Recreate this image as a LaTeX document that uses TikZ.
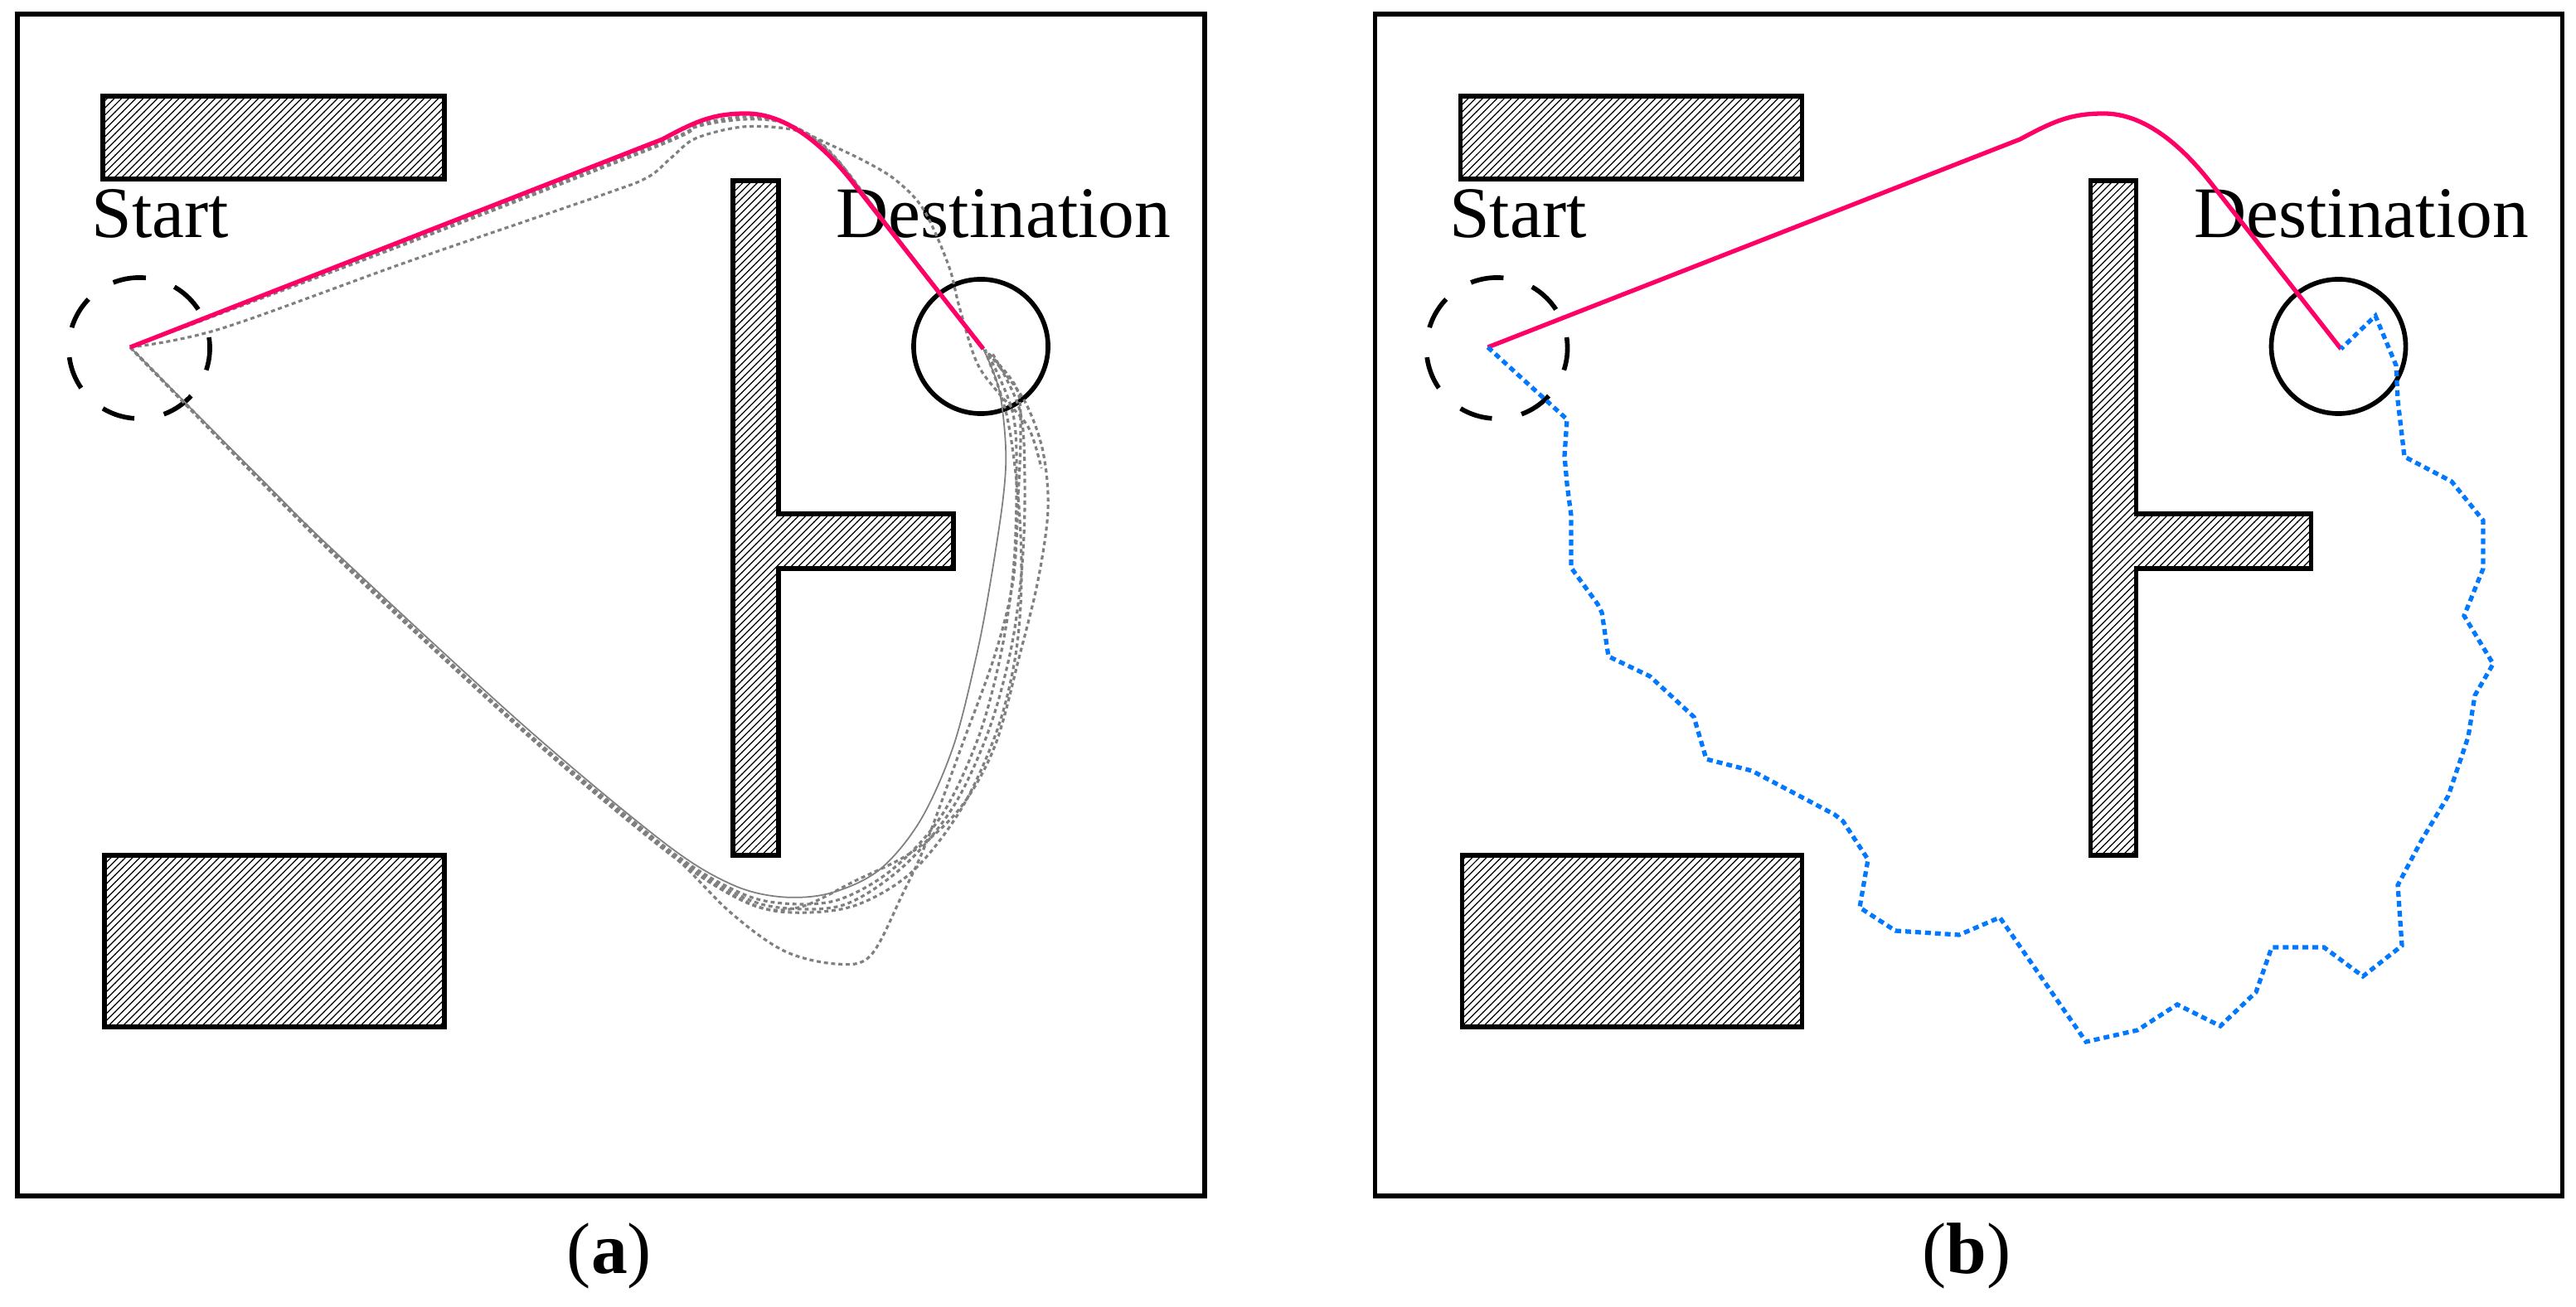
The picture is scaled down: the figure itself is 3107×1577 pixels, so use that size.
\documentclass[tikz,border=0pt]{standalone}
\usepackage{fontspec}
\setmainfont{Liberation Serif}
\usetikzlibrary{patterns}
\pgfdeclarepatternformonly{hatchlines}{\pgfqpoint{-1pt}{-1pt}}{\pgfqpoint{3.47pt}{3.47pt}}{\pgfqpoint{2.47pt}{2.47pt}}{%
  \pgfsetlinewidth{0.35pt}%
  \pgfpathmoveto{\pgfqpoint{0pt}{0pt}}%
  \pgfpathlineto{\pgfqpoint{2.57pt}{2.57pt}}%
  \pgfusepath{stroke}}
\definecolor{pathred}{RGB}{255,0,102}
\definecolor{pathblue}{RGB}{0,120,255}
\definecolor{trajgray}{RGB}{128,128,128}
\tikzset{
  panelframe/.style={draw=black, line width=1.6pt},
  obstacle/.style={draw=black, line width=1.6pt, pattern=hatchlines, pattern color=black, line join=miter},
  lbl/.style={font=\fontsize{24.9pt}{30pt}\selectfont, inner sep=0pt, anchor=base west},
  captext/.style={font=\fontsize{24.9pt}{30pt}\selectfont, inner sep=0pt, anchor=base},
  startzone/.style={circle, draw=black, line width=1.6pt, minimum size=1.70cm, inner sep=0pt,
    dash pattern=on 0.40cm off 0.363cm, dash phase=0.27cm},
  goalzone/.style={circle, draw=black, line width=1.6pt, minimum size=1.62cm, inner sep=0pt},
  redpath/.style={draw=pathred, line width=1.5pt, line join=round},
  bluepath/.style={draw=pathblue, line width=1.5pt, dash pattern=on 2pt off 1.4pt},
  traj/.style={draw=trajgray, line width=0.9pt, dash pattern=on 1.4pt off 1.1pt},
  trajthin/.style={draw=trajgray, line width=0.5pt},
}
\newcommand{\mapbase}[1]{%
  \draw[panelframe] (21,17) rectangle (1453,1443);
  \draw[obstacle] (124,116) rectangle (536,216);
  \draw[obstacle] (126,1032) rectangle (536,1239);
  \draw[obstacle] (884,218) -- (939,218) -- (939,620) -- (1150,620) -- (1150,686) -- (939,686) -- (939,1032) -- (884,1032) -- cycle;
  \node[lbl] (#1start) at (110,287) {Start};
  \node[lbl] (#1dest) at (1008,287) {Destination};
  \node[startzone] (#1sz) at (168,420) {};
  \node[goalzone] (#1gz) at (1183,418) {};
  \coordinate (#1s) at (157,419);
  \coordinate (#1d) at (1186,421);
}
\newcommand{\redroute}[1]{%
  \draw[redpath] (#1s) -- (799,168) .. controls (840,146) and (860,137) .. (900,137)
     .. controls (950,137) and (995,177) .. (1030,222) -- (#1d);
}
\begin{document}
\begin{tikzpicture}[x=0.01cm, y=-0.01cm]
\fill[white] (0,0) rectangle (3107,1577);
\path[use as bounding box] (0,0) rectangle (3107,1577);

% ---------- panel (a)
\begin{scope}
  \mapbase{a}
  \begin{scope}[smooth, tension=0.55]
  \draw[traj] plot coordinates {(157,419) (480,296) (799,172) (840,151) (897,141) (943,147) (983,167) (1012,195) (1040,232) (1186,421)};
  \draw[traj] plot coordinates {(157,419) (265,397) (494,315) (724,236) (781,214) (810,190) (839,167) (896,153) (954,156) (985,170) (1020,205) (1060,258) (1186,421)};
  \draw[traj] plot coordinates {(157,419) (480,298) (799,174) (840,153) (898,144) (945,148) (987,168) (1040,193) (1080,217) (1114,253) (1144,320) (1157,370) (1178,437) (1205,475) (1240,515) (1256,565)};
  \draw[trajthin] plot coordinates {(157,419) (319,582) (400,662) (630,874) (800,1016) (880,1066) (940,1082) (1000,1078) (1060,1050) (1110,990) (1150,900) (1178,790) (1195,700) (1210,600) (1213,540) (1205,470) (1186,421)};
  \draw[traj] plot coordinates {(157,419) (400,664) (630,879) (805,1024) (890,1076) (945,1090) (1010,1086) (1075,1050) (1135,985) (1180,890) (1207,790) (1222,690) (1226,590) (1222,500) (1192,428)};
  \draw[traj] plot coordinates {(157,419) (402,667) (635,884) (810,1030) (895,1082) (950,1096) (1020,1091) (1090,1045) (1150,973) (1193,880) (1220,780) (1233,680) (1236,580) (1230,495) (1196,425)};
  \draw[traj] plot coordinates {(157,419) (404,671) (640,890) (815,1036) (900,1088) (955,1101) (1030,1093) (1100,1052) (1160,975) (1203,880) (1225,790) (1232,700) (1228,600) (1214,500) (1188,423)};
  \draw[traj] plot coordinates {(157,419) (403,669) (636,887) (812,1033) (905,1091) (963,1095) (1031,1063) (1100,1028) (1158,975) (1200,900) (1230,790) (1252,700) (1264,615) (1258,545) (1238,488) (1210,448) (1188,422)};
  \draw[traj] plot coordinates {(157,419) (400,664) (630,879) (802,1023) (880,1100) (945,1147) (1008,1163) (1050,1153) (1089,1078) (1117,1017) (1160,900) (1200,790) (1222,700) (1228,600) (1231,520) (1226,468) (1190,424)};
  \end{scope}
  \redroute{a}
\end{scope}
\node[captext] (capa) at (735,1536) {(\textbf{a})};

% ---------- panel (b)
\begin{scope}[shift={(1637.5,0)}]
  \mapbase{b}
  \redroute{b}
\end{scope}
\draw[bluepath] (bs) -- (1890,506) -- (1887,550) -- (1890,584) -- (1895,622) -- (1895,685) -- (1927,729) -- (1932,739) -- (1940,792) -- (1990,816) -- (2043,865) -- (2058,916) -- (2113,930) -- (2213,983) -- (2223,991) -- (2253,1037) -- (2243,1095) -- (2286,1123) -- (2363,1128) -- (2412,1107) -- (2516,1257) -- (2578,1243) -- (2626,1212) -- (2678,1238) -- (2721,1197) -- (2740,1143) -- (2803,1143) -- (2850,1178) -- (2897,1141) -- (2892,1068) -- (2920,1015) -- (2953,960) -- (2977,889) -- (2985,839) -- (3007,801) -- (2972,743) -- (2995,686) -- (2995,628) -- (2957,581) -- (2900,551) -- (2892,483) -- (2890,441) -- (2865,381) -- (bd);
\node[captext] (capb) at (2372,1536) {(\textbf{b})};
\end{tikzpicture}
\end{document}
